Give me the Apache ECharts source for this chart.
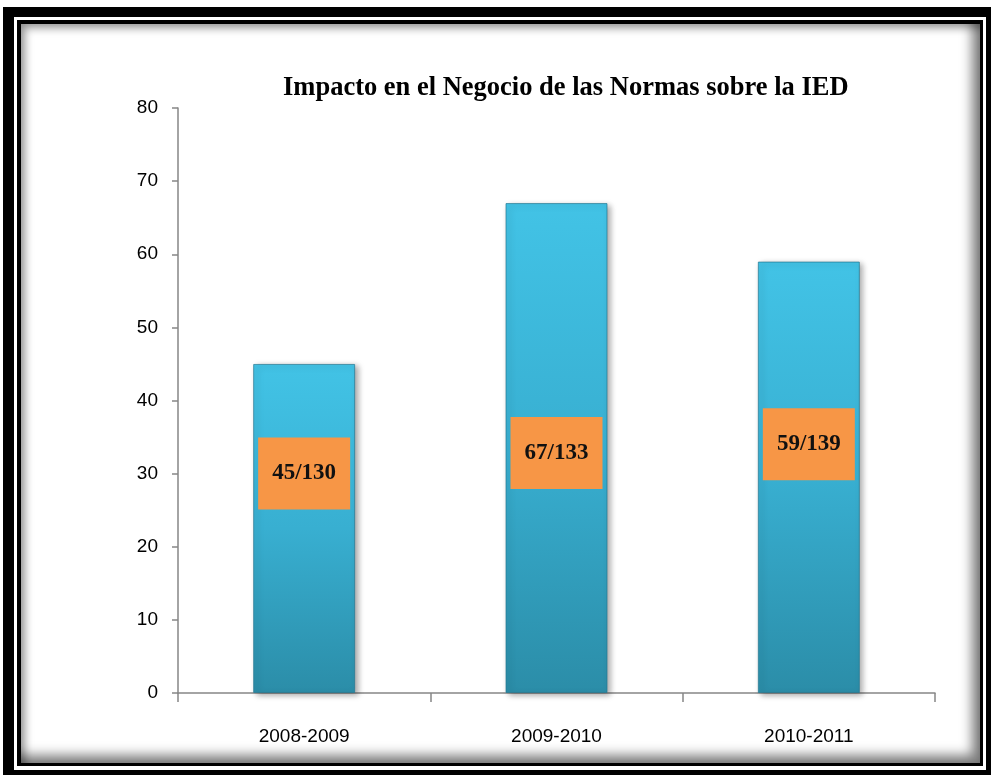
<!DOCTYPE html>
<html>
<head>
<meta charset="utf-8">
<script src="https://cdn.jsdelivr.net/npm/echarts@6/dist/echarts.min.js"></script>
<style>
  html, body { margin: 0; padding: 0; background: #fff; }
  .frame-outer {
    position: absolute; left: 3px; top: 7px; width: 988px; height: 768px;
    box-sizing: border-box; border-style: solid; border-color: #000;
    border-width: 10px 5px 5px 11px;
  }
  .frame-inner {
    position: absolute; left: 17px; top: 20px; width: 966px; height: 746px;
    box-sizing: border-box; border-style: solid; border-color: #000;
    border-width: 4px 3px 3px 4px;
    box-shadow: inset -8px -8px 12px rgba(0,0,0,0.5), inset 4px 4px 8px rgba(0,0,0,0.4);
  }
  #chart { position: absolute; left: 0; top: 0; width: 994px; height: 775px; z-index: 2; }
</style>
</head>
<body>
<div class="frame-outer"></div>
<div class="frame-inner"></div>
<div id="chart"></div>
<script>
  // datos del grafico
  const categories = ['2008-2009', '2009-2010', '2010-2011']
  const values = [45, 67, 59]
  const ratioLabels = ['45/130', '67/133', '59/139']
  const yMin = 0
  const yMax = 80
  const yStep = 10

  // desplazamiento de las etiquetas naranjas respecto al centro de la barra
  const labelOffsets = [[0, -55], [0, 5], [0, -33]]

  const axisColor = '#868686'
  const sansFont = "'Liberation Sans', Arial, sans-serif"
  const serifFont = "'Liberation Serif', 'Times New Roman', serif"

  const chart = echarts.init(document.getElementById('chart'))

  const option = {
    animation: false,
    title: {
      text: 'Impacto en el Negocio de las Normas sobre la IED',
      left: 278,
      top: 70,
      textStyle: {
        fontFamily: serifFont,
        fontWeight: 'bold',
        fontSize: 26.5,
        color: '#000'
      }
    },
    grid: {
      left: 178,
      right: 59,
      top: 108,
      bottom: 82
    },
    xAxis: {
      type: 'category',
      data: categories,
      axisLine: { lineStyle: { color: axisColor, width: 1.5 } },
      axisTick: { show: true, length: 9, lineStyle: { color: axisColor, width: 1.5 } },
      axisLabel: {
        margin: 34,
        fontFamily: sansFont,
        fontSize: 19,
        color: '#000'
      }
    },
    yAxis: {
      type: 'value',
      min: yMin,
      max: yMax,
      interval: yStep,
      axisLine: { show: true, lineStyle: { color: axisColor, width: 1.5 } },
      axisTick: { show: true, length: 6, lineStyle: { color: axisColor, width: 1.5 } },
      splitLine: { show: false },
      axisLabel: {
        margin: 20,
        fontFamily: sansFont,
        fontSize: 19,
        color: '#000'
      }
    },
    series: [{
      type: 'bar',
      barWidth: 102,
      data: values.map((v, i) => ({
        value: v,
        label: {
          show: true,
          position: 'inside',
          offset: labelOffsets[i],
          formatter: ratioLabels[i],
          backgroundColor: '#f79646',
          width: 92,
          height: 72,
          lineHeight: 72,
          align: 'center',
          verticalAlign: 'middle',
          fontFamily: serifFont,
          fontWeight: 'bold',
          fontSize: 23,
          color: '#111'
        }
      })),
      itemStyle: {
        color: new echarts.graphic.LinearGradient(0, 0, 0, 1, [
          { offset: 0, color: '#42c3e6' },
          { offset: 0.5, color: '#38afd1' },
          { offset: 1, color: '#2b8da8' }
        ]),
        borderColor: 'rgba(35,120,145,0.7)',
        borderWidth: 1,
        shadowColor: 'rgba(0,0,0,0.35)',
        shadowBlur: 6,
        shadowOffsetX: 3,
        shadowOffsetY: 2
      }
    }]
  }

  chart.setOption(option)
</script>
</body>
</html>
